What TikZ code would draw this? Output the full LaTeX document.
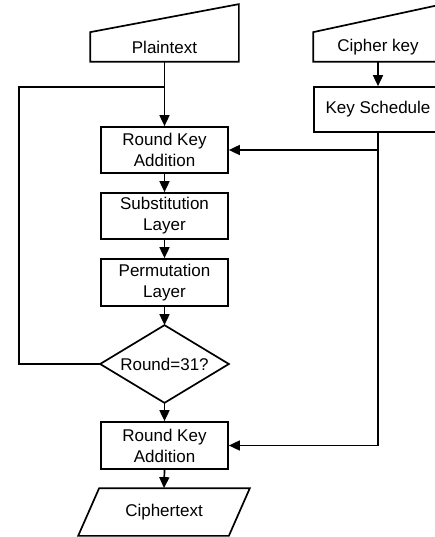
\documentclass[tikz,border=0pt]{standalone}
\usepackage{fontspec}
\setmainfont{Liberation Sans}
\usetikzlibrary{arrows.meta}
\begin{document}
\begin{tikzpicture}[x=1pt, y=-1pt, line width=1.7pt,
        every node/.style={font=\fontsize{17}{21}\selectfont, align=center, inner sep=0pt},
        box/.style={draw, rectangle, minimum width=127, minimum height=46},
        arr/.style={-{Triangle[length=11pt, width=10pt]}}]
        \clip (0, 0) rectangle (435, 537);
        % inputs (manual input shape)
        \node[minimum width=147, minimum height=28] (plain) at (164.5, 47) {Plaintext};
        \draw (plain.north west) -- (plain.south west) -- (plain.south east) -- ([yshift=28pt]plain.north east) -- cycle;
        \node[minimum width=128, minimum height=28] (ckey) at (378, 47) {Cipher key};
        \draw (ckey.north west) -- (ckey.south west) -- (ckey.south east) -- ([yshift=28pt]ckey.north east) -- cycle;
        \node[box, minimum width=128, minimum height=45] (ks) at (378, 109.5) {Key Schedule};
        % round
        \node[box] (rka1) at (164.5, 150) {Round Key\\Addition};
        \node[box] (sub) at (164.5, 216) {Substitution\\Layer};
        \node[box, minimum height=47] (perm) at (164.5, 282.5) {Permutation\\Layer};
        \node[minimum width=127, minimum height=76] (dec) at (164.5, 364) {Round=31?};
        \draw (dec.north) -- (dec.east) -- (dec.south) -- (dec.west) -- cycle;
        \node[box, minimum height=47] (rka2) at (164.5, 445.5) {Round Key\\Addition};
        % output (parallelogram)
        \node[minimum width=149, minimum height=46] (ctext) at (164, 512) {Ciphertext};
        \draw ([xshift=-10.5pt]ctext.south west) -- ([xshift=-10.5pt]ctext.south east)
            -- ([xshift=10.5pt]ctext.north east) -- ([xshift=10.5pt]ctext.north west) -- cycle;
        % connectors
        \draw[arr] (plain.south) -- (rka1.north);
        \draw[arr] (ckey.south) -- (ks.north);
        \foreach \a/\b in {rka1/sub, sub/perm, perm/dec, dec/rka2, rka2/ctext}{
            \draw[arr] (\a.south) -- (\b.north);
        }
        \coordinate (fb) at (19, 87);
        \draw (dec.west) -| (fb) -- (fb -| plain.south);
        \draw[arr] (ks.south) |- (rka2.east);
        \draw[arr] (ks.south |- rka1.east) -- (rka1.east);
    \end{tikzpicture}
\end{document}
